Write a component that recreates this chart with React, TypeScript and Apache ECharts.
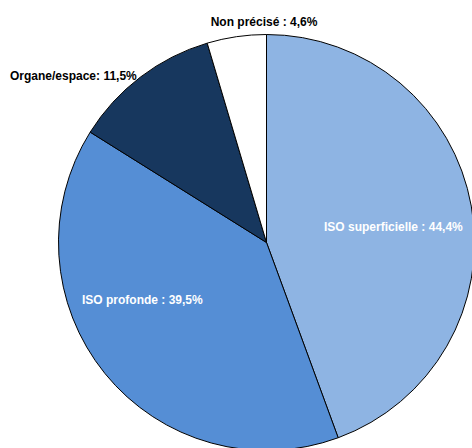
import React, { useEffect, useRef } from "react";
import * as echarts from "echarts";

// Répartition des ISO par type
const categories = ["ISO superficielle", "ISO profonde", "Organe/espace", "Non précisé"];
const values = [44.4, 39.5, 11.5, 4.6];
const separators = [" : ", " : ", ": ", " : "];
const colors = ["#8EB4E3", "#558ED5", "#17375E", "#FFFFFF"];
const labelColors = ["#FFFFFF", "#FFFFFF", "#000000", "#000000"];

// Label anchors (x, y, align) per slice
const labelAnchors: [number, number, "left" | "center"][] = [
  [324, 227, "left"],
  [82, 300, "left"],
  [10, 76, "left"],
  [264, 22, "center"],
];

const fmt = (v: number) => v.toFixed(1).replace(".", ",") + "%";

export default function App() {
  const ref = useRef<HTMLDivElement>(null);
  useEffect(() => {
    if (!ref.current) return;
    const chart = echarts.init(ref.current, undefined, { renderer: "svg" });
    chart.setOption({
      animation: false,
      backgroundColor: "#FFFFFF",
      series: [
        {
          type: "pie",
          center: [266.5, 242.5],
          radius: 208,
          startAngle: 90,
          clockwise: true,
          avoidLabelOverlap: false,
          data: categories.map((name, i) => ({
            name,
            value: values[i],
            itemStyle: { color: colors[i] },
            label: { color: labelColors[i] },
          })),
          itemStyle: { borderColor: "#000000", borderWidth: 1 },
          label: {
            show: true,
            position: "inside",
            fontFamily: "'Liberation Sans', Arial, sans-serif",
            fontWeight: "bold",
            fontSize: 12,
            formatter: (p: any) => p.name + separators[p.dataIndex] + fmt(p.value),
          },
          labelLine: { show: false },
          labelLayout: (p: any) => {
            const a = labelAnchors[p.dataIndex];
            return { x: a[0], y: a[1], align: a[2], verticalAlign: "middle" };
          },
          emphasis: { disabled: true },
        },
      ],
    });
    return () => chart.dispose();
  }, []);
  return (
    <div
      ref={ref}
      style={{ position: "fixed", left: 0, top: 0, width: 472, height: 448 }}
    />
  );
}
